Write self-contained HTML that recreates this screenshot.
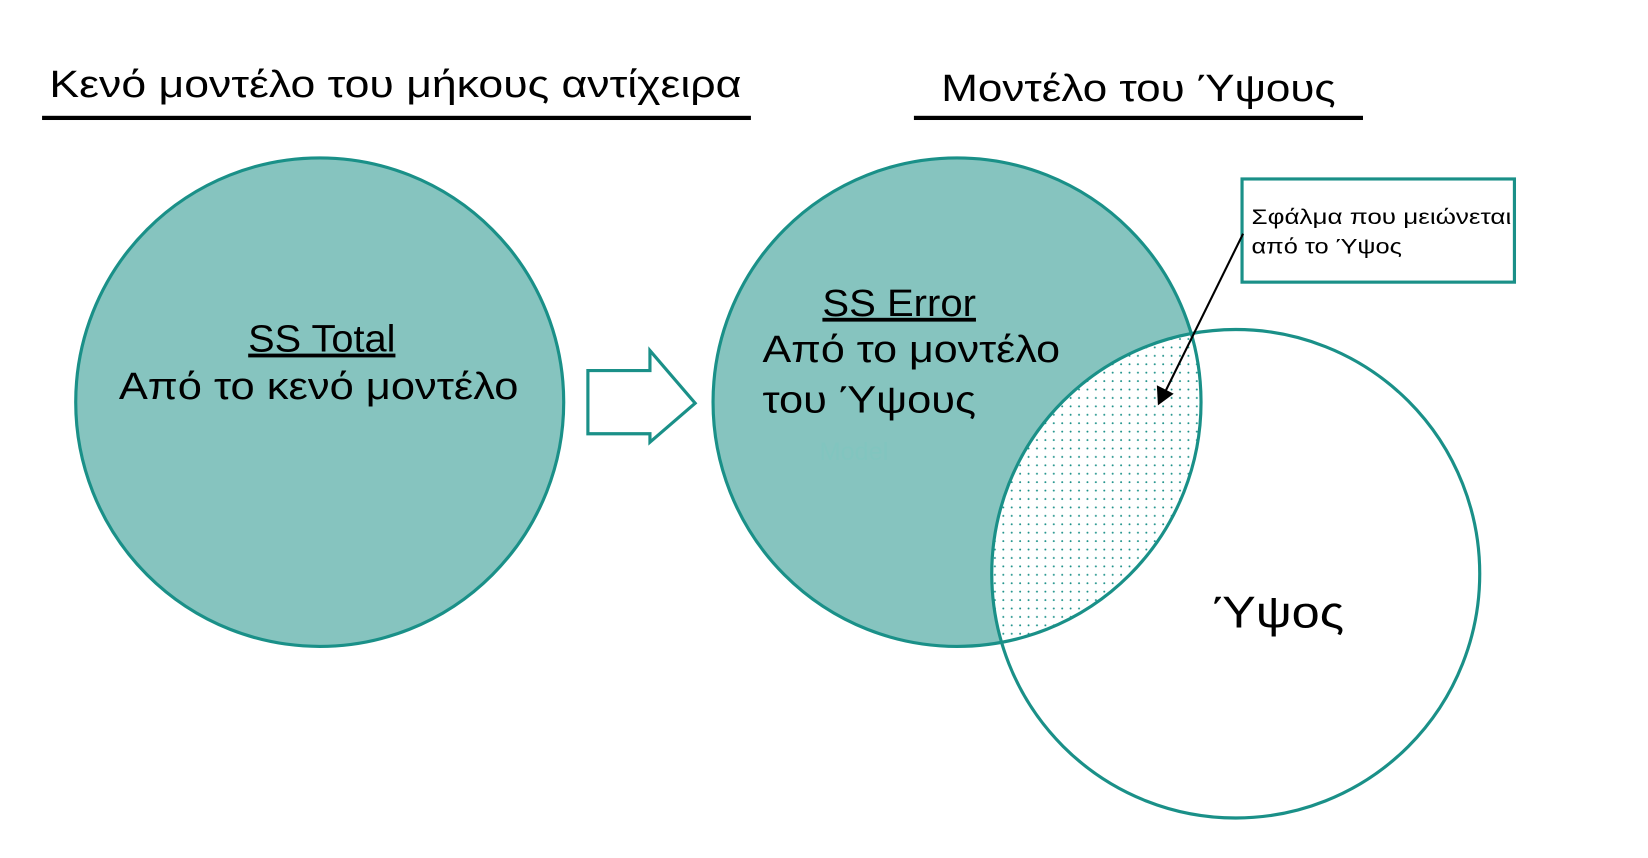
<!DOCTYPE html>
<html><head><meta charset="utf-8"><style>html,body{margin:0;padding:0;background:#fff}svg{display:block}</style></head>
<body>
<svg width="1648" height="858" viewBox="0 0 1567 815" preserveAspectRatio="none" xmlns="http://www.w3.org/2000/svg" font-family="Liberation Sans, DejaVu Sans, sans-serif">
<defs>
<pattern id="dots" width="8" height="8" patternUnits="userSpaceOnUse">
<rect width="8" height="8" fill="#fff"/>
<circle cx="2" cy="2" r="0.9" fill="#1a9088"/>
</pattern>
<clipPath id="c2"><circle cx="910" cy="382" r="232"/></clipPath>
</defs>
<text x="47" y="92" font-size="36" textLength="658" lengthAdjust="spacingAndGlyphs">Κενό μοντέλο του μήκους αντίχειρα</text>
<rect x="40" y="110" width="674" height="4" fill="#000"/>
<text x="895" y="96" font-size="36" textLength="375" lengthAdjust="spacingAndGlyphs">Μοντέλο του Ύψους</text>
<rect x="869" y="110" width="427" height="4" fill="#000"/>

<circle cx="304" cy="382" r="232" fill="#86c4bf" stroke="#1a9088" stroke-width="3"/>
<text x="236" y="334" font-size="36" text-decoration="underline" textLength="140" lengthAdjust="spacingAndGlyphs">SS Total</text>
<text x="113" y="379" font-size="36" textLength="380" lengthAdjust="spacingAndGlyphs">Από το κενό μοντέλο</text>

<path d="M559,352 L618,352 L618,333 L661,383 L618,420 L618,412 L559,412 Z" fill="#fff" stroke="#1a9088" stroke-width="3"/>

<circle cx="910" cy="382" r="232" fill="#86c4bf"/>
<circle cx="1175" cy="545" r="232" fill="#fff"/>
<circle cx="1175" cy="545" r="232" fill="url(#dots)" clip-path="url(#c2)"/>
<circle cx="910" cy="382" r="232" fill="none" stroke="#1a9088" stroke-width="3"/>
<circle cx="1175" cy="545" r="232" fill="none" stroke="#1a9088" stroke-width="3"/>

<text x="812" y="437" font-size="24" fill="#7fc7c0" opacity="0.6" text-anchor="middle">Model</text>
<text x="782" y="300" font-size="36" text-decoration="underline" textLength="146" lengthAdjust="spacingAndGlyphs">SS Error</text>
<text x="725" y="344" font-size="36" textLength="283" lengthAdjust="spacingAndGlyphs">Από το μοντέλο</text>
<text x="725" y="392" font-size="36" textLength="203" lengthAdjust="spacingAndGlyphs">του Ύψους</text>
<text x="1153" y="596" font-size="42" textLength="125" lengthAdjust="spacingAndGlyphs">Ύψος</text>

<rect x="1181" y="170" width="259" height="98" fill="#fff" stroke="#1a9088" stroke-width="3"/>
<text x="1190" y="213" font-size="20" textLength="247" lengthAdjust="spacingAndGlyphs">Σφάλμα που μειώνεται</text>
<text x="1190" y="241" font-size="20" textLength="143" lengthAdjust="spacingAndGlyphs">από το Ύψος</text>
<line x1="1182" y1="222" x2="1108" y2="372" stroke="#000" stroke-width="2"/>
<path d="M1101,385 L1100,366 L1116,374 Z" fill="#000"/>
</svg>
</body></html>
